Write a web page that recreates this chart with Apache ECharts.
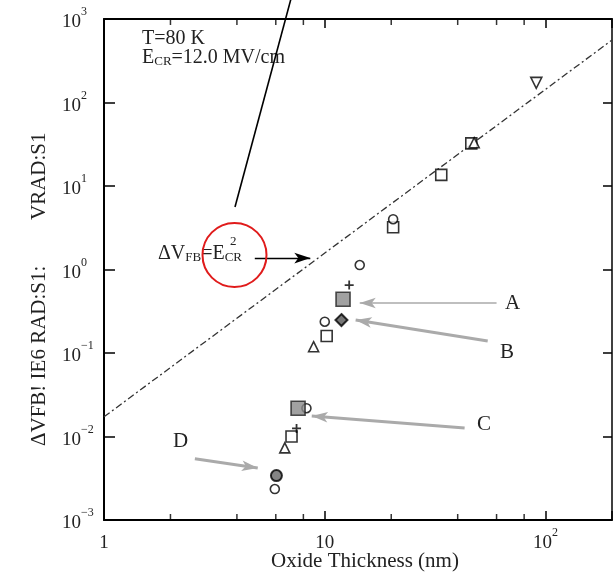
<!DOCTYPE html>
<html>
<head>
<meta charset="utf-8">
<script src="https://cdn.jsdelivr.net/npm/echarts@6/dist/echarts.min.js"></script>
<style>
  html, body { margin: 0; padding: 0; background: #fff; }
  #chart { width: 613px; height: 572px; }
</style>
</head>
<body>
<div id="chart"></div>
<script>
const SERIF = '"Liberation Serif", "DejaVu Serif", serif'

// fitted line dV_FB ~ E_CR^2 (end points)
const fitLine = [[1, 0.0172], [200, 560]]

// measured points, grouped by symbol
const openSquare = [[7.07, 0.0100], [10.2, 0.160], [20.4, 3.2], [33.7, 13.6], [46.1, 32.4]]
const openCircle = [[5.94, 0.00235], [8.26, 0.0218], [10.0, 0.237], [14.4, 1.13], [20.4, 4.0]]
const triangleUp = [[6.59, 0.0073], [8.9, 0.119], [47.5, 33]]
const triangleDown = [[90.8, 172]]
const plusMark = [[7.45, 0.0125], [12.9, 0.65]]
const graySquare = [[7.57, 0.0218], [12.1, 0.44]]
const blackDiamond = [[11.9, 0.248]]
const grayCircle = [[6.04, 0.0034]]

// minor ticks on the thickness axis
const minorTicksX = [2, 4, 6, 8, 20, 40, 60, 80]

// annotation arrows (from, to) in data units
const arrowDV = [[4.82, 1.37], [8.6, 1.37]]
const arrowA = [[60, 0.397], [14.4, 0.397]]
const arrowB = [[54.7, 0.139], [13.8, 0.248]]
const arrowC = [[43, 0.0126], [8.73, 0.0176]]
const arrowD = [[2.58, 0.0054], [4.97, 0.0042]]

const supRich = {
  b: { fontSize: 19, fontFamily: SERIF, color: '#222', lineHeight: 26, verticalAlign: 'bottom' },
  s: { fontSize: 12, fontFamily: SERIF, color: '#222', lineHeight: 12, verticalAlign: 'top' }
}

const powLabel = (v) => {
  const e = Math.round(Math.log10(v))
  if (Math.abs(Math.log10(v) - e) > 1e-6) return ''
  return '{b|10}{s|' + String(e).replace('-', '\u2212') + '}'
}

const openStyle = { color: '#fff', borderColor: '#000', borderWidth: 1.6 }

const scatter = (data, symbol, size, style, extra) => Object.assign({
  type: 'scatter',
  data: data,
  symbol: symbol,
  symbolSize: size,
  itemStyle: style,
  clip: false,
  silent: true,
  z: 4
}, extra || {})

const arrow = (pair, color, width, size) => [
  { coord: pair[0], lineStyle: { color: color, width: width, type: 'solid' }, symbolSize: size },
  { coord: pair[1] }
]

const chart = echarts.init(document.getElementById('chart'), null, { renderer: 'canvas' })

chart.setOption({
  backgroundColor: '#fff',
  animation: false,
  grid: { left: 104, right: 1, top: 19, bottom: 52, outerBoundsMode: 'none', containLabel: false },
  xAxis: [{
    type: 'log',
    min: 1,
    max: 200,
    position: 'bottom',
    name: 'Oxide Thickness (nm)',
    nameLocation: 'middle',
    nameGap: 31,
    nameMoveOverlap: false,
    nameTextStyle: { fontFamily: SERIF, fontSize: 21, color: '#222', padding: [0, 0, 0, 14] },
    axisLine: { lineStyle: { color: '#000', width: 2 } },
    axisTick: { inside: true, length: 9, lineStyle: { color: '#000', width: 1.5 } },
    axisLabel: {
      margin: 7,
      formatter: (v) => v === 1 ? '{b|1}' : v === 10 ? '{b|10}' : powLabel(v),
      rich: supRich
    },
    splitLine: { show: false }
  }, {
    type: 'log',
    min: 1,
    max: 200,
    position: 'top',
    axisLine: { lineStyle: { color: '#000', width: 2 } },
    axisTick: { inside: true, length: 9, lineStyle: { color: '#000', width: 1.5 } },
    axisLabel: { show: false },
    splitLine: { show: false }
  }],
  yAxis: [{
    type: 'log',
    min: 0.001,
    max: 1000,
    position: 'left',
    axisLine: { lineStyle: { color: '#000', width: 2 } },
    axisTick: { inside: true, length: 11, lineStyle: { color: '#000', width: 1.5 } },
    axisLabel: { margin: 42, align: 'left', formatter: powLabel, rich: supRich },
    splitLine: { show: false }
  }, {
    type: 'log',
    min: 0.001,
    max: 1000,
    position: 'right',
    axisLine: { lineStyle: { color: '#000', width: 1.5 } },
    axisTick: { inside: true, length: 9, lineStyle: { color: '#000', width: 1.5 } },
    axisLabel: { show: false },
    splitLine: { show: false }
  }],
  series: [
    {
      type: 'line',
      data: fitLine,
      symbol: 'none',
      silent: true,
      lineStyle: { color: '#333', width: 1.3, type: [7, 3, 2, 3] },
      z: 2
    },
    scatter(minorTicksX.map(x => [x, 0.001]), 'rect', [1.5, 6], { color: '#000' }, { symbolOffset: [0, -3] }),
    scatter(minorTicksX.map(x => [x, 1000]), 'rect', [1.5, 6], { color: '#000' }, { symbolOffset: [0, 3] }),
    scatter(openSquare, 'rect', 11, openStyle),
    scatter(openCircle, 'circle', 9, openStyle),
    scatter(triangleUp, 'triangle', 10, openStyle),
    scatter(triangleDown, 'triangle', 11, openStyle, { symbolRotate: 180 }),
    scatter(plusMark, 'path://M4,0H6V4H10V6H6V10H4V6H0V4H4Z', 9, { color: '#000' }),
    scatter(graySquare, 'rect', 14, { color: '#8a8a8a', borderColor: '#222', borderWidth: 1.6 }),
    scatter(blackDiamond, 'diamond', 12, { color: '#555', borderColor: '#000', borderWidth: 2 }),
    scatter(grayCircle, 'circle', 11, { color: '#666', borderColor: '#000', borderWidth: 2 }),
    {
      type: 'scatter',
      data: [],
      silent: true,
      z: 3,
      markLine: {
        silent: true,
        animation: false,
        label: { show: false },
        symbol: ['none', 'arrow'],
        data: [
          arrow(arrowDV, '#000', 1.3, [8, 9]),
          arrow(arrowA, '#aaa', 1.6, [16, 14]),
          arrow(arrowB, '#aaa', 3, [16, 14]),
          arrow(arrowC, '#aaa', 3, [16, 14]),
          arrow(arrowD, '#aaa', 3, [16, 14])
        ]
      }
    }
  ],
  graphic: [
    {
      type: 'text', left: 142, top: 29, silent: true,
      style: { text: 'T=80 K', fontFamily: SERIF, fontSize: 20, fill: '#222' }
    },
    {
      type: 'text', left: 142, top: 48, silent: true,
      style: {
        text: 'E{s|CR}=12.0 MV/cm',
        fontFamily: SERIF, fontSize: 20, fill: '#222',
        rich: { s: { fontFamily: SERIF, fontSize: 13, fill: '#222', padding: [8, 0, 0, 0] } }
      }
    },
    {
      type: 'text', left: 158, top: 244, silent: true,
      style: {
        text: '\u0394V{s|FB}=E{s|CR}',
        fontFamily: SERIF, fontSize: 20, fill: '#222',
        rich: { s: { fontFamily: SERIF, fontSize: 13, fill: '#222', padding: [8, 0, 0, 0] } }
      }
    },
    {
      type: 'text', left: 230, top: 235, silent: true,
      style: { text: '2', fontFamily: SERIF, fontSize: 13, fill: '#222' }
    },
    {
      type: 'circle', silent: true, z: 10,
      shape: { cx: 234.5, cy: 255, r: 32 },
      style: { fill: 'none', stroke: '#e01b1b', lineWidth: 2 }
    },
    {
      type: 'line', silent: true, z: 10,
      shape: { x1: 235, y1: 207, x2: 292, y2: -5 },
      style: { stroke: '#000', lineWidth: 1.6 }
    },
    { type: 'text', left: 505, top: 293, silent: true, style: { text: 'A', fontFamily: SERIF, fontSize: 21, fill: '#222' } },
    { type: 'text', left: 500, top: 342, silent: true, style: { text: 'B', fontFamily: SERIF, fontSize: 21, fill: '#222' } },
    { type: 'text', left: 477, top: 414, silent: true, style: { text: 'C', fontFamily: SERIF, fontSize: 21, fill: '#222' } },
    { type: 'text', left: 173, top: 431, silent: true, style: { text: 'D', fontFamily: SERIF, fontSize: 21, fill: '#222' } },
    {
      type: 'text', silent: true, x: 29, y: 446, rotation: Math.PI / 2,
      style: { text: '\u0394VFB! IE6 RAD:S1:', fontFamily: SERIF, fontSize: 21, fill: '#222', align: 'left', verticalAlign: 'top' }
    },
    {
      type: 'text', silent: true, x: 29, y: 220, rotation: Math.PI / 2,
      style: { text: 'VRAD:S1', fontFamily: SERIF, fontSize: 21, fill: '#222', align: 'left', verticalAlign: 'top' }
    }
  ]
})
</script>
</body>
</html>
